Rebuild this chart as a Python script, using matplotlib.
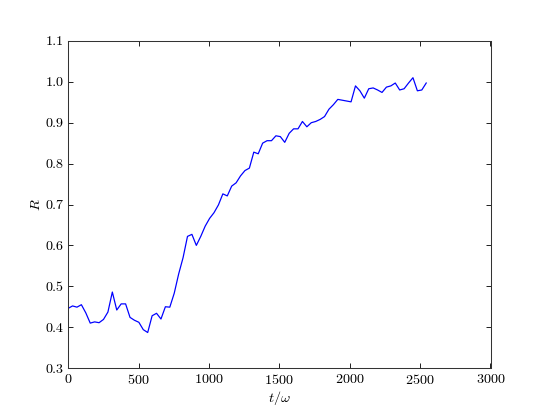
import numpy as np
import matplotlib
matplotlib.use("Agg")
import matplotlib.pyplot as plt

# classic-looking style with Computer Modern text
plt.rcParams['font.family'] = 'cmr10'
plt.rcParams['mathtext.fontset'] = 'cm'
plt.rcParams['axes.formatter.use_mathtext'] = True
plt.rcParams['font.size'] = 15

# order parameter R sampled every ~10*pi in t/omega
R = [0.446, 0.452, 0.449, 0.455, 0.435, 0.410, 0.413, 0.411, 0.419, 0.437,
     0.486, 0.442, 0.457, 0.457, 0.424, 0.417, 0.412, 0.394, 0.387, 0.428,
     0.434, 0.420, 0.450, 0.449, 0.483, 0.530, 0.570, 0.622, 0.627, 0.600,
     0.622, 0.647, 0.666, 0.680, 0.699, 0.726, 0.721, 0.745, 0.753, 0.770,
     0.783, 0.789, 0.828, 0.824, 0.850, 0.856, 0.856, 0.868, 0.866, 0.852,
     0.874, 0.885, 0.885, 0.903, 0.890, 0.900, 0.903, 0.908, 0.915, 0.933,
     0.944, 0.957, 0.955, 0.953, 0.951, 0.990, 0.978, 0.960, 0.983, 0.985,
     0.980, 0.974, 0.987, 0.990, 0.997, 0.980, 0.983, 0.997, 1.010, 0.978,
     0.980, 0.997]
dt = 31.4
t = dt * np.arange(len(R))

xticks = [0, 500, 1000, 1500, 2000, 2500, 3000]
yticks = [0.3, 0.4, 0.5, 0.6, 0.7, 0.8, 0.9, 1.0, 1.1]

fig = plt.figure(figsize=(545 / 68.0, 409 / 68.0), dpi=68)
ax = fig.add_axes([0.125, 0.1, 0.775, 0.8])

ax.plot(t, R, color='b', linewidth=1.3)

ax.set_xlim(0, 3000)
ax.set_ylim(0.3, 1.1)
ax.set_xticks(xticks)
ax.set_yticks(yticks)
ax.set_yticklabels(['%.1f' % v for v in yticks])
ax.tick_params(direction='in', top=True, right=True, length=5, width=0.9, pad=5)
for s in ax.spines.values():
    s.set_linewidth(1.1)
    s.set_color('#333333')

ax.set_xlabel(r'$t/\omega$', fontsize=15, labelpad=2)
ax.set_ylabel(r'$R$', fontsize=15, labelpad=2)

fig.savefig('out.png', dpi=68)
